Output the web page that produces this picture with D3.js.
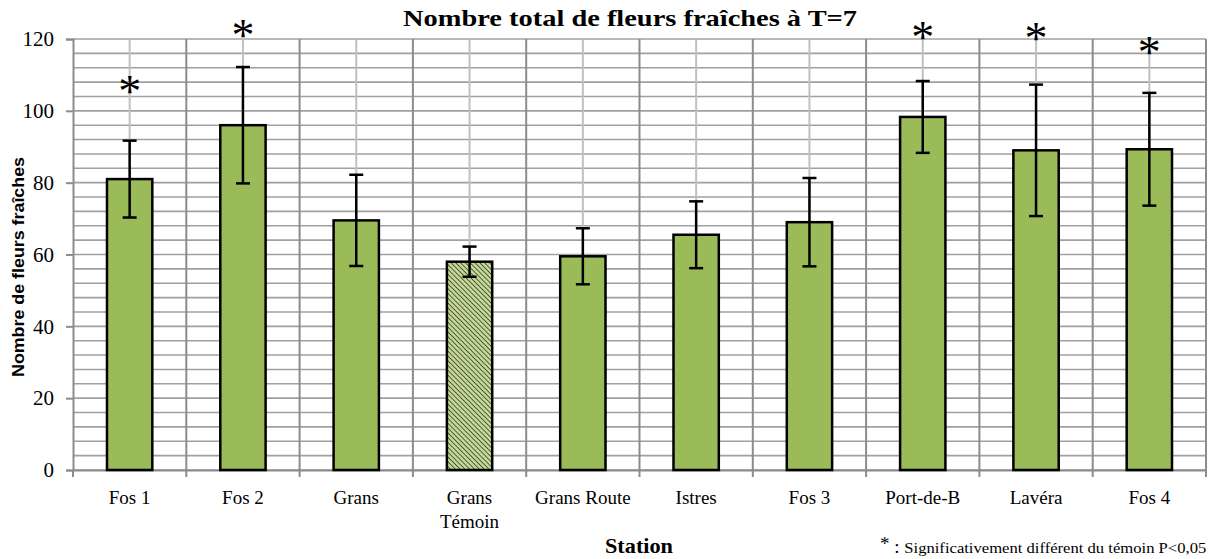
<!DOCTYPE html>
<html>
<head>
<meta charset="utf-8">
<script src="https://cdn.jsdelivr.net/npm/d3@7"></script>
<style>
  body { margin: 0; background: #fff; }
  svg text { fill: #000; }
</style>
</head>
<body>
<div id="chartdiv"></div>
<script>
// data
var stations = ["Fos 1", "Fos 2", "Grans", "Grans Témoin", "Grans Route", "Istres", "Fos 3", "Port-de-B", "Lavéra", "Fos 4"];
var meanFlowers = [81, 96, 69.5, 58, 59.5, 65.5, 69, 98.3, 89, 89.3];
var errFlowers = [10.7, 16.2, 12.7, 4.2, 7.8, 9.3, 12.3, 10, 18.3, 15.7];
var significant = [true, true, false, false, false, false, false, true, true, true];
var starLevel = [106.5, 122.3, null, null, null, null, null, 121.8, 121.3, 117.6];
var controlStation = "Grans Témoin";
var yTicks = [0, 20, 40, 60, 80, 100, 120];

var width = 1228, height = 559;
var margin = {left: 73, right: 22, top: 39, bottom: 89};

var svgContainer = d3.select("div#chartdiv").append("svg")
                     .attr("width", width)
                     .attr("height", height);

var x = d3.scaleBand()
          .domain(stations)
          .range([margin.left, width - margin.right])
          .paddingInner(0).paddingOuter(0);

var y = d3.scaleLinear()
          .domain([0, 120])
          .range([height - margin.bottom, margin.top]);

// hatch pattern for the control
var defs = svgContainer.append("defs");
var pat = defs.append("pattern")
              .attr("id", "hatch")
              .attr("patternUnits", "userSpaceOnUse")
              .attr("width", 3.4).attr("height", 3.4)
              .attr("patternTransform", "rotate(-45)");
pat.append("rect").attr("width", 3.4).attr("height", 3.4).attr("fill", "#c4d79b");
pat.append("line").attr("x1", 0).attr("y1", 0).attr("x2", 0).attr("y2", 3.4)
   .attr("stroke", "#2f3a14").attr("stroke-width", 1.5);

// horizontal grid, every 4 units
var minorTicks = d3.range(0, 121, 4);
svgContainer.append("g").selectAll("line")
  .data(minorTicks)
  .enter().append("line")
  .attr("x1", margin.left).attr("x2", width - margin.right)
  .attr("y1", function(d) { return y(d); })
  .attr("y2", function(d) { return y(d); })
  .attr("stroke", "#a0a0a0")
  .attr("stroke-width", 1.6);

// vertical grid: category centers (light) and boundaries (dark)
svgContainer.append("g").selectAll("line")
  .data(stations)
  .enter().append("line")
  .attr("x1", function(d) { return x(d) + x.bandwidth()/2; })
  .attr("x2", function(d) { return x(d) + x.bandwidth()/2; })
  .attr("y1", y(120)).attr("y2", y(0))
  .attr("stroke", "#c0c0c0").attr("stroke-width", 2);

svgContainer.append("g").selectAll("line")
  .data(stations.slice(1).concat(["end"]))
  .enter().append("line")
  .attr("x1", function(d) { return d === "end" ? width - margin.right : x(d); })
  .attr("x2", function(d) { return d === "end" ? width - margin.right : x(d); })
  .attr("y1", y(120)).attr("y2", y(0))
  .attr("stroke", "#8c8c8c").attr("stroke-width", 2);

// y axis
var yAxis = d3.axisLeft(y).tickValues(yTicks).tickSize(7).tickPadding(12);
var yg = svgContainer.append("g")
  .attr("transform", "translate(" + margin.left + ",0)")
  .call(yAxis);
yg.select(".domain").attr("stroke", "#8c8c8c").attr("stroke-width", 2);
yg.selectAll(".tick line").attr("stroke", "#8c8c8c").attr("stroke-width", 2);
yg.selectAll(".tick text")
  .attr("font-family", "Liberation Serif")
  .attr("font-size", 21).attr("fill", "#000");

// x axis
var xAxis = d3.axisBottom(x).tickSize(0).tickFormat("");
var xg = svgContainer.append("g")
  .attr("transform", "translate(0," + y(0) + ")")
  .call(xAxis);
xg.select(".domain").attr("stroke", "#8c8c8c").attr("stroke-width", 2);
xg.selectAll(".tickmark")
  .data(stations.concat(["end"]))
  .enter().append("line")
  .attr("x1", function(d) { return d === "end" ? width - margin.right : x(d); })
  .attr("x2", function(d) { return d === "end" ? width - margin.right : x(d); })
  .attr("y1", 0).attr("y2", 7)
  .attr("stroke", "#8c8c8c").attr("stroke-width", 2);

// x labels (Grans Témoin on two lines)
var xl = svgContainer.append("g").selectAll("text")
  .data(stations)
  .enter().append("text")
  .attr("x", function(d) { return x(d) + x.bandwidth()/2; })
  .attr("y", 504)
  .attr("text-anchor", "middle")
  .attr("font-family", "Liberation Serif")
  .attr("font-size", 19);
xl.each(function(d) {
  var t = d3.select(this);
  if (d === controlStation) {
    t.append("tspan").attr("x", x(d) + x.bandwidth()/2).text("Grans");
    t.append("tspan").attr("x", x(d) + x.bandwidth()/2).attr("dy", 24).text("Témoin");
  } else {
    t.text(d);
  }
});

// bars
var barW = x.bandwidth() * 0.4;
svgContainer.append("g").selectAll("rect")
  .data(stations)
  .enter().append("rect")
  .attr("x", function(d) { return x(d) + (x.bandwidth() - barW)/2; })
  .attr("y", function(d, i) { return y(meanFlowers[i]); })
  .attr("width", barW)
  .attr("height", function(d, i) { return y(0) - y(meanFlowers[i]); })
  .attr("fill", function(d) { return d === controlStation ? "url(#hatch)" : "#9bbb59"; })
  .attr("stroke", "#000")
  .attr("stroke-width", 2.5);

// error bars
var eb = svgContainer.append("g").selectAll("g")
  .data(stations)
  .enter().append("g")
  .attr("stroke", "#000").attr("stroke-width", 2.5);
eb.append("line")
  .attr("x1", function(d) { return x(d) + x.bandwidth()/2; })
  .attr("x2", function(d) { return x(d) + x.bandwidth()/2; })
  .attr("y1", function(d, i) { return y(meanFlowers[i] + errFlowers[i]); })
  .attr("y2", function(d, i) { return y(meanFlowers[i] - errFlowers[i]); });
eb.append("line")
  .attr("x1", function(d) { return x(d) + x.bandwidth()/2 - 7; })
  .attr("x2", function(d) { return x(d) + x.bandwidth()/2 + 7; })
  .attr("y1", function(d, i) { return y(meanFlowers[i] + errFlowers[i]); })
  .attr("y2", function(d, i) { return y(meanFlowers[i] + errFlowers[i]); });
eb.append("line")
  .attr("x1", function(d) { return x(d) + x.bandwidth()/2 - 7; })
  .attr("x2", function(d) { return x(d) + x.bandwidth()/2 + 7; })
  .attr("y1", function(d, i) { return y(meanFlowers[i] - errFlowers[i]); })
  .attr("y2", function(d, i) { return y(meanFlowers[i] - errFlowers[i]); });

// significance stars
svgContainer.append("g").selectAll("text")
  .data(stations.filter(function(d, i) { return significant[i]; }))
  .enter().append("text")
  .attr("x", function(d) { return x(d) + x.bandwidth()/2; })
  .attr("y", function(d) { return y(starLevel[stations.indexOf(d)]) + 20; })
  .attr("text-anchor", "middle")
  .attr("font-family", "Liberation Serif")
  .attr("font-size", 46)
  .text("*");

// title
svgContainer.append("text")
  .attr("x", 630).attr("y", 26)
  .attr("text-anchor", "middle")
  .attr("font-family", "Liberation Serif")
  .attr("font-weight", "bold")
  .attr("font-size", 24)
  .attr("textLength", 454)
  .attr("lengthAdjust", "spacingAndGlyphs")
  .text("Nombre total de fleurs fraîches à T=7");

// axis titles
svgContainer.append("text")
  .attr("transform", "translate(24,267) rotate(-90)")
  .attr("text-anchor", "middle")
  .attr("font-family", "Liberation Sans")
  .attr("font-weight", "bold")
  .attr("font-size", 16)
  .attr("textLength", 220)
  .attr("lengthAdjust", "spacingAndGlyphs")
  .text("Nombre de fleurs fraîches");

svgContainer.append("text")
  .attr("x", 639).attr("y", 553)
  .attr("text-anchor", "middle")
  .attr("font-family", "Liberation Serif")
  .attr("font-weight", "bold")
  .attr("font-size", 21)
  .attr("textLength", 68)
  .attr("lengthAdjust", "spacingAndGlyphs")
  .text("Station");

// footnote
var fn = svgContainer.append("text")
  .attr("x", 880).attr("y", 553)
  .attr("font-family", "Liberation Serif");
fn.append("tspan").attr("font-size", 19).attr("dy", -3).text("*");
fn.append("tspan").attr("font-size", 19).attr("dy", 3).text(" : ");
fn.append("tspan").attr("font-size", 15.5)
  .attr("textLength", 302)
  .attr("lengthAdjust", "spacingAndGlyphs")
  .text("Significativement différent du témoin P<0,05");
</script>
</body>
</html>
